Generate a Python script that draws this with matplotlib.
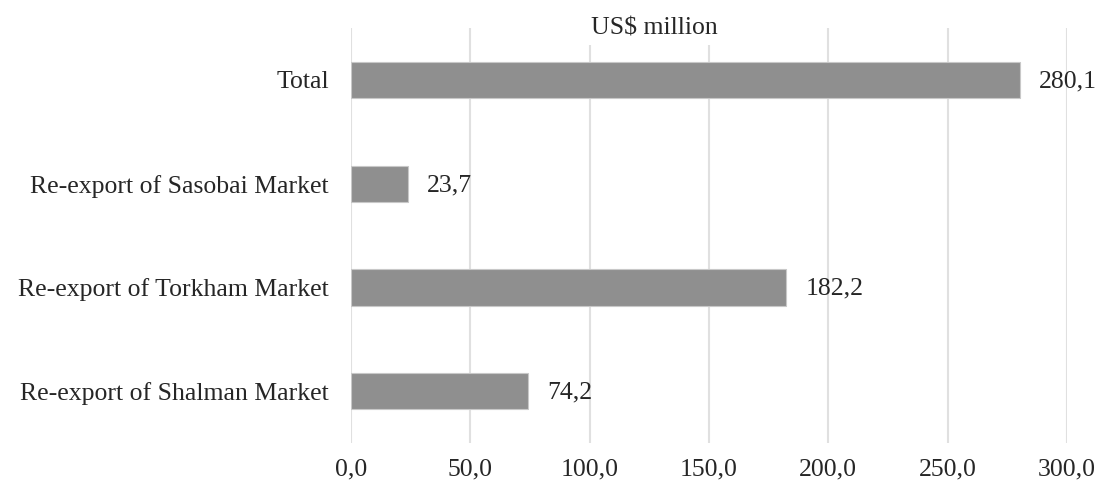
import matplotlib.pyplot as plt

# data
categories = ['Re-export of Shalman Market', 'Re-export of Torkham Market',
              'Re-export of Sasobai Market', 'Total']
values = [74.2, 182.2, 23.7, 280.1]
x_ticks = [0, 50, 100, 150, 200, 250, 300]

plt.rcParams['font.family'] = ['Liberation Serif', 'DejaVu Serif']
FS = 18.5

fig = plt.figure(figsize=(10.98, 4.87), dpi=100)
ax = fig.add_axes([0.3197, 0.0903, 0.6521, 0.852])

ax.barh(range(len(categories)), values, height=0.35, color='#8f8f8f',
        edgecolor='#c8c8c8', linewidth=0.8, zorder=3)

for i, v in enumerate(values):
    ax.annotate(f'{v:.1f}'.replace('.', ','), xy=(v, i), xytext=(14, -1),
                textcoords='offset points', va='center', ha='left',
                fontsize=FS, color='#262626')

ax.set_xlim(0, 300)
ax.set_ylim(-0.5, 3.5)
ax.set_xticks(x_ticks)
ax.set_xticklabels([f'{t:.1f}'.replace('.', ',') for t in x_ticks])
ax.set_yticks(range(len(categories)))
ax.set_yticklabels(categories)
ax.tick_params(axis='x', length=0, pad=11, labelsize=FS, labelcolor='#262626')
ax.tick_params(axis='y', length=0, pad=16, labelsize=FS, labelcolor='#262626')

ax.grid(axis='x', color='#e0e0e0', linewidth=1.5, zorder=0)
ax.grid(axis='y', visible=False)
for s in ax.spines.values():
    s.set_visible(False)

fig.text(654 / 1098, 1 - 28 / 487, 'US$ million', ha='center', va='center',
         fontsize=FS, color='#262626',
         bbox=dict(facecolor='white', edgecolor='none', pad=4))

fig.savefig('out.png', dpi=100, facecolor='white')
